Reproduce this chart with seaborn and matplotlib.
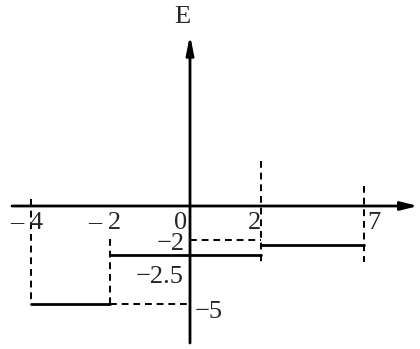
import numpy as np
import pandas as pd
import matplotlib
matplotlib.use("Agg")
import matplotlib.pyplot as plt
import seaborn as sns

# step function E(x)
x_edges = [-4, -2, 2, 7]
e_levels = [-5, -2.5, -2]
x_ticks = [-4, -2, 0, 2, 7]
x_tick_labels = ["\u2013 4", "\u2013 2", "0", "2", "7"]

# guide lines (dashed) as drawn in the sketch
vguide_x = [-4, -2, 2, 7]
vguide_top = [0.35, -1.7, 2.3, 1.0]
vguide_bottom = [-5, -5, -2.95, -2.85]

# the x axis of the sketch is not to scale, so use a piecewise scale
knots_data = [-10, -4, -2, 0, 2, 7, 15]
knots_draw = [-209, 31, 110, 190, 261, 364, 524]


def fwd(x):
    return np.interp(x, knots_data, knots_draw)


def inv(p):
    return np.interp(p, knots_draw, knots_data)


sns.set_style("white")
plt.rcParams["font.family"] = ["Liberation Serif", "DejaVu Serif"]

fig = plt.figure(figsize=(4.2, 3.49), dpi=100)
ax = fig.add_axes([0, 0, 1, 1])
ax.set_xscale("function", functions=(fwd, inv))
ax.set_xlim(inv(0), inv(420))
ax.set_ylim(-(349 - 206) / 19.6, 206 / 19.6)
ax.axis("off")

# axes with arrow heads
ax.annotate("", xy=(inv(418), 0), xytext=(inv(12), 0),
            arrowprops=dict(arrowstyle="-|>,head_length=1.0,head_width=0.25",
                            color="black", lw=2, shrinkA=0, shrinkB=0))
ax.annotate("", xy=(0, (206 - 35) / 19.6), xytext=(0, -(343 - 206) / 19.6),
            arrowprops=dict(arrowstyle="-|>,head_length=1.1,head_width=0.22",
                            color="black", lw=2, shrinkA=0, shrinkB=0))
ax.text(inv(182), (206 - 17) / 19.6, "E", fontsize=19, ha="center", va="center")

# solid steps
for i, lev in enumerate(e_levels):
    seg = pd.DataFrame({"x": [x_edges[i], x_edges[i + 1]], "E": [lev, lev]})
    sns.lineplot(data=seg, x="x", y="E", color="black", lw=2, ax=ax)

# dashed guides
for xv, top, bot in zip(vguide_x, vguide_top, vguide_bottom):
    ax.plot([xv, xv], [top, bot], color="black", lw=1.4, ls=(0, (3.5, 2.5)))
ax.plot([-2, 0], [-5, -5], color="black", lw=1.4, ls=(0, (3.5, 2.5)))
ax.plot([0, 2], [-1.75, -1.75], color="black", lw=1.4, ls=(0, (3.5, 2.5)))

# tick labels
label_dx = {-4: -4, -2: -5, 0: -9, 2: -6, 7: 10}
for xv, lab in zip(x_ticks, x_tick_labels):
    ax.text(inv(fwd(xv) + label_dx[xv]), -0.85, lab, fontsize=19,
            ha="center", va="center")

ax.text(inv(185), -1.95, "\u22122", fontsize=19, ha="right", va="center")
ax.text(inv(184), -3.6, "\u22122.5", fontsize=19, ha="right", va="center")
ax.text(inv(195), -5.4, "\u22125", fontsize=19, ha="left", va="center")

fig.savefig("out.png", dpi=100, facecolor="white")
